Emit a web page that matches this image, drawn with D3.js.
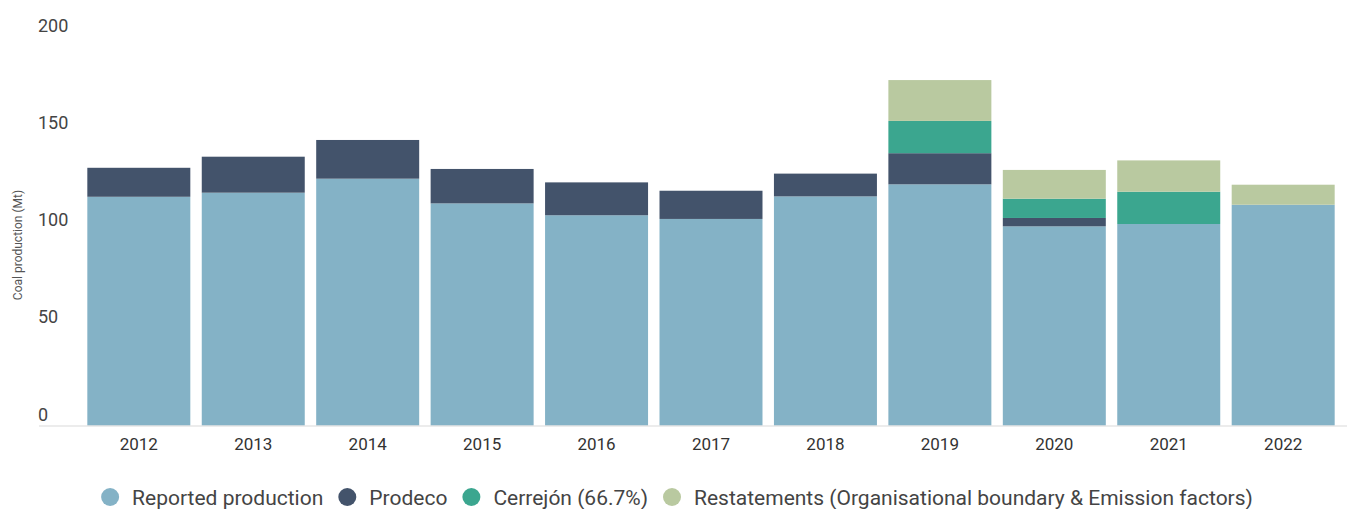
<!DOCTYPE html>
<html><head><meta charset="utf-8">
<script src="https://cdn.jsdelivr.net/npm/d3@7"></script>
<style>
html,body{margin:0;padding:0;background:#fff;}
svg{display:block;font-family:Roboto, "Noto Sans", sans-serif;}
</style></head>
<body>
<svg id="chart" width="1351" height="509"></svg>
<script>
const years = ["2012","2013","2014","2015","2016","2017","2018","2019","2020","2021","2022"];
const reported    = [117.6,119.7,126.9,114.2,108.1,106.2,117.8,124.0,102.4,103.6,113.5];
const prodeco     = [14.9,18.5,19.9,17.7,16.9,14.5,11.7,16.0,4.3,0,0];
const cerrejon    = [0,0,0,0,0,0,0,16.6,9.9,16.6,0];
const restatements= [0,0,0,0,0,0,0,21.0,14.8,16.1,10.3];
const seriesNames = ["Reported production","Prodeco","Cerrejón (66.7%)","Restatements (Organisational boundary & Emission factors)"];
const seriesColors = ["#84b2c6","#43536b","#3ba68f","#b9c9a0"];
const yTicks = [0,50,100,150,200];
const yTitle = "Coal production (Mt)";

const svg = d3.select("#chart");
const keys = ["reported","prodeco","cerrejon","restatements"];
const rows = years.map((y,i)=>({year:y,reported:reported[i],prodeco:prodeco[i],cerrejon:cerrejon[i],restatements:restatements[i]}));
const stack = d3.stack().keys(keys)(rows);

const x = d3.scaleBand().domain(years).range([81.6,1340.4]).paddingInner(0.1).paddingOuter(0.05);
const y = d3.scaleLinear().domain([0,200]).range([425.5,36.5]);
const color = d3.scaleOrdinal().domain(keys).range(seriesColors);

// bars
svg.append("g").selectAll("g").data(stack).join("g")
  .attr("fill", d=>color(d.key))
  .selectAll("rect").data(d=>d.filter(s=>s[1]-s[0]>0)).join("rect")
  .attr("x", d=>x(d.data.year))
  .attr("width", x.bandwidth())
  .attr("y", d=>y(d[1]))
  .attr("height", d=>y(d[0])-y(d[1]));

// baseline
svg.append("line").attr("x1",39).attr("x2",1347).attr("y1",y(0)+0.5).attr("y2",y(0)+0.5)
  .attr("stroke","#d9d9d9").attr("stroke-width",1);

// y tick labels
svg.append("g").selectAll("text").data(yTicks).join("text")
  .attr("x",38).attr("y",d=>y(d)-5)
  .attr("font-size",18).attr("fill","#444")
  .text(d=>d);

// y title
svg.append("text").attr("transform","translate(22,245) rotate(-90)")
  .attr("text-anchor","middle").attr("font-size",12).attr("fill","#555").text(yTitle);

// x axis labels
const xAxis = d3.axisBottom(x).tickSize(0).tickPadding(0);
const gx = svg.append("g").attr("transform",`translate(0,${y(0)})`).call(xAxis);
gx.select(".domain").remove();
gx.selectAll("text").attr("font-size",17).attr("fill","#333").attr("font-family","Roboto").attr("dy",0).attr("y",24);

// legend
const lg = svg.append("g");
let cx = 0;
seriesNames.forEach((n,i)=>{
  const g = lg.append("g");
  g.append("circle").attr("cx",0).attr("cy",0).attr("r",9).attr("fill",seriesColors[i]);
  const t = g.append("text").attr("x",22).attr("y",7.5).attr("font-size",21).attr("fill","#444").text(n);
  const w = t.node().getComputedTextLength();
  g.attr("transform",`translate(${cx},0)`);
  cx += 22 + w + 24;
});
const totalW = cx - 24 + 9;
lg.attr("transform",`translate(${677 - totalW/2 + 9},497)`);
</script>
</body></html>
